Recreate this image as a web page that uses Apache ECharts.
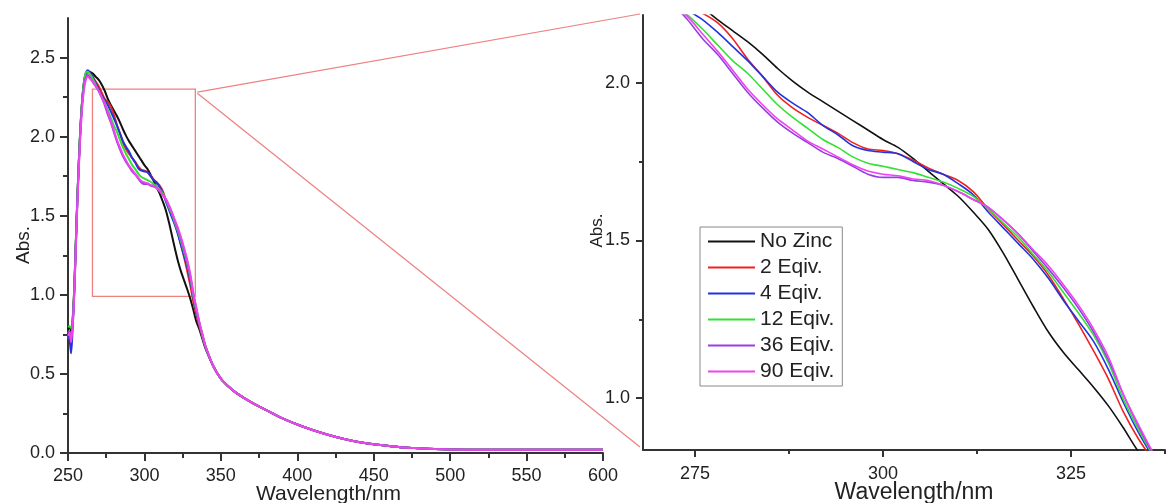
<!DOCTYPE html>
<html>
<head>
<meta charset="utf-8">
<script src="https://cdn.jsdelivr.net/npm/echarts@6/dist/echarts.min.js"></script>
<style>
html,body{margin:0;padding:0;background:#fff;}
#chart{width:1168px;height:503px;}
</style>
</head>
<body>
<div id="chart"></div>
<script>
// ---------- DATA ----------
const seriesNames = ['No Zinc', '2 Eqiv.', '4 Eqiv.', '12 Eqiv.', '36 Eqiv.', '90 Eqiv.'];
const seriesColors = ['#111111', '#ee2222', '#2233dd', '#33e033', '#9a3ce6', '#ee44ee'];

// wavelengths where the six spectra differ (nm)
const wlHead = [250,251,252,253,254,255,256,257,258,259,260,261,262,263,264,
  266,268,270,272,274,276,278,280,282,284,286,288,290,292,294,296,298,300,
  302,304,306,308,310,312,314,316,318,320,322,324,326,328,330,332,334,336,338,340];

const absNoZinc = [0.78,0.80,0.77,0.84,1.02,1.30,1.58,1.82,2.03,2.19,2.30,2.37,2.40,2.41,2.41,
  2.40,2.38,2.36,2.33,2.29,2.24,2.20,2.165,2.13,2.09,2.045,2.005,1.97,1.94,1.91,1.88,1.85,1.82,
  1.795,1.76,1.72,1.68,1.64,1.59,1.535,1.46,1.375,1.29,1.21,1.145,1.09,1.035,0.975,0.905,0.83,0.78,0.72,0.66];
const abs2Eq = [0.72,0.76,0.74,0.82,1.00,1.28,1.57,1.82,2.03,2.19,2.30,2.37,2.40,2.41,2.40,
  2.38,2.35,2.32,2.28,2.24,2.22,2.19,2.14,2.075,2.02,1.96,1.92,1.89,1.865,1.84,1.81,1.79,1.785,
  1.775,1.755,1.73,1.71,1.69,1.655,1.60,1.55,1.50,1.45,1.39,1.315,1.235,1.15,1.06,0.955,0.87,0.80,0.73,0.67];
const abs4Eq = [0.76,0.72,0.63,0.78,1.00,1.28,1.57,1.82,2.03,2.19,2.31,2.38,2.41,2.42,2.41,
  2.38,2.34,2.30,2.26,2.23,2.20,2.16,2.115,2.07,2.02,1.97,1.935,1.905,1.865,1.835,1.80,1.785,1.78,
  1.775,1.75,1.725,1.71,1.68,1.645,1.59,1.54,1.49,1.44,1.38,1.31,1.245,1.18,1.09,0.985,0.89,0.81,0.74,0.67];
const abs12Eq = [0.80,0.80,0.79,0.84,1.02,1.30,1.58,1.83,2.04,2.20,2.31,2.38,2.41,2.41,2.40,
  2.37,2.33,2.29,2.25,2.215,2.17,2.12,2.07,2.03,1.98,1.93,1.89,1.855,1.82,1.795,1.765,1.745,1.735,
  1.725,1.715,1.70,1.685,1.665,1.64,1.60,1.555,1.51,1.455,1.40,1.335,1.27,1.20,1.11,0.995,0.90,0.815,0.74,0.67];
const abs36Eq = [0.76,0.77,0.72,0.82,1.00,1.28,1.56,1.80,2.01,2.17,2.28,2.35,2.38,2.39,2.38,
  2.35,2.32,2.29,2.25,2.20,2.14,2.09,2.03,1.97,1.92,1.875,1.84,1.81,1.78,1.76,1.735,1.71,1.70,
  1.70,1.69,1.685,1.675,1.655,1.63,1.605,1.565,1.52,1.465,1.41,1.35,1.285,1.21,1.12,1.01,0.91,0.82,0.745,0.675];
const abs90Eq = [0.74,0.76,0.70,0.80,0.98,1.26,1.54,1.78,1.99,2.15,2.26,2.33,2.37,2.38,2.37,
  2.35,2.32,2.29,2.25,2.21,2.155,2.10,2.04,1.98,1.93,1.885,1.85,1.815,1.79,1.765,1.74,1.72,1.71,
  1.705,1.695,1.69,1.675,1.655,1.63,1.605,1.565,1.52,1.47,1.42,1.36,1.295,1.22,1.13,1.01,0.915,0.825,0.75,0.675];

// common tail (all spectra overlap)
const wlTail = [345,350,355,360,370,380,390,400,410,420,430,440,450,460,470,480,490,500,520,550,580,600];
const absTail = [0.55,0.47,0.42,0.38,0.32,0.27,0.22,0.18,0.145,0.115,0.09,0.07,0.055,0.045,0.035,0.03,0.025,0.022,0.02,0.02,0.02,0.02];

// zoom box drawn on the full spectrum (data units)
const zoomBoxX = [266, 333.3];
const zoomBoxY = [0.99, 2.3];

// axis ticks
const leftXRange = [250, 600];
const leftYRange = [0, 2.75];
const leftYMajor = [0, 0.5, 1.0, 1.5, 2.0, 2.5];
const leftYMinor = [0.25, 0.75, 1.25, 1.75, 2.25];
const rightXRange = [268.1, 337.5];
const rightXMajor = [275, 300, 325];
const rightXMinor = [287.5, 312.5, 337.5];
const rightYRange = [0.836, 2.2145];
const rightYMajor = [1.0, 1.5, 2.0];
const rightYMinor = [1.25, 1.75];

// ---------- CHART ----------
const allAbs = [absNoZinc, abs2Eq, abs4Eq, abs12Eq, abs36Eq, abs90Eq];
const wlAll = wlHead.concat(wlTail);
function pairs(a) {
  const v = a.concat(absTail);
  return wlAll.map((w, i) => [w, v[i]]);
}
const FONT = 'Liberation Sans, Arial, sans-serif';
const AX = '#333';
const LBL = {fontFamily: FONT, fontSize: 18, color: '#222'};

function xAxisBase(gi, range) {
  return {
    type: 'value', gridIndex: gi, min: range[0], max: range[1], position: 'bottom', offset: 0,
    splitLine: {show: false}, nameMoveOverlap: false,
    axisLine: {show: true, onZero: false, lineStyle: {color: AX, width: 2}},
    axisLabel: Object.assign({margin: 14}, LBL),
  };
}
function yAxisBase(gi, range) {
  return {
    type: 'value', gridIndex: gi, min: range[0], max: range[1], position: 'left', offset: 0,
    splitLine: {show: false}, nameMoveOverlap: false,
    axisLine: {show: true, onZero: false, lineStyle: {color: AX, width: 2}},
    axisLabel: Object.assign({margin: 13, formatter: v => Number(v).toFixed(1)}, LBL),
  };
}

const xAxes = [
  Object.assign(xAxisBase(0, leftXRange), {
    interval: 50,
    axisTick: {length: 8, lineStyle: {color: AX, width: 2}},
    minorTick: {show: true, splitNumber: 2, length: 5, lineStyle: {color: AX, width: 2}},
    name: 'Wavelength/nm', nameLocation: 'middle', nameGap: 31,
    nameTextStyle: {fontFamily: FONT, fontSize: 21, color: '#222', padding: [0, 14, 0, 0]}
  }),
  Object.assign(xAxisBase(1, rightXRange), {
    axisTick: {length: 7, customValues: rightXMajor, lineStyle: {color: AX, width: 2}},
    axisLabel: Object.assign({margin: 15, customValues: rightXMajor}, LBL),
    name: 'Wavelength/nm', nameLocation: 'middle', nameGap: 31,
    nameTextStyle: {fontFamily: FONT, fontSize: 23, color: '#222', padding: [0, 0, 0, 20]}
  }),
  Object.assign(xAxisBase(1, rightXRange), {
    axisLine: {show: false},
    axisLabel: {show: false},
    axisTick: {length: 4, customValues: rightXMinor, lineStyle: {color: AX, width: 2}}
  })
];
const yAxes = [
  Object.assign(yAxisBase(0, leftYRange), {
    axisTick: {length: 8, customValues: leftYMajor, lineStyle: {color: AX, width: 2}},
    axisLabel: Object.assign({margin: 13, customValues: leftYMajor, formatter: v => Number(v).toFixed(1)}, LBL),
    name: 'Abs.', nameLocation: 'middle', nameGap: 35,
    nameTextStyle: {fontFamily: FONT, fontSize: 19, color: '#222', padding: [0, 19, 0, 0]}
  }),
  Object.assign(yAxisBase(0, leftYRange), {
    axisLine: {show: false}, axisLabel: {show: false},
    axisTick: {length: 5, customValues: leftYMinor, lineStyle: {color: AX, width: 2}}
  }),
  Object.assign(yAxisBase(1, rightYRange), {
    axisTick: {length: 7, customValues: rightYMajor, lineStyle: {color: AX, width: 2}},
    axisLabel: Object.assign({margin: 13, customValues: rightYMajor, formatter: v => Number(v).toFixed(1)}, LBL),
    name: 'Abs.', nameLocation: 'middle', nameGap: 37,
    nameTextStyle: {fontFamily: FONT, fontSize: 17, color: '#222', padding: [0, 0, 0, 4]}
  }),
  Object.assign(yAxisBase(1, rightYRange), {
    axisLine: {show: false}, axisLabel: {show: false},
    axisTick: {length: 4, customValues: rightYMinor, lineStyle: {color: AX, width: 2}}
  })
];

const series = [];
allAbs.forEach((a, i) => {
  const s = {
    name: seriesNames[i], type: 'line', xAxisIndex: 0, yAxisIndex: 0,
    data: pairs(a), symbol: 'none', smooth: 0.3, color: seriesColors[i],
    lineStyle: {width: 2, color: seriesColors[i]}, z: 2 + i
  };
  if (i === 0) {
    s.markArea = {
      silent: true,
      itemStyle: {color: 'rgba(0,0,0,0)', borderColor: '#ee8080', borderWidth: 1.3},
      data: [[{coord: [zoomBoxX[0], zoomBoxY[1]]}, {coord: [zoomBoxX[1], zoomBoxY[0]]}]]
    };
  }
  series.push(s);
});
allAbs.forEach((a, i) => {
  series.push({
    name: seriesNames[i], type: 'line', xAxisIndex: 1, yAxisIndex: 2,
    data: pairs(a), symbol: 'none', smooth: 0.3, color: seriesColors[i], clip: true,
    lineStyle: {width: 1.6, color: seriesColors[i]}, z: 2 + i
  });
});

const chart = echarts.init(document.getElementById('chart'), null, {renderer: 'canvas'});
chart.setOption({
  animation: false,
  backgroundColor: '#ffffff',
  grid: [
    {left: 68, top: 18, width: 535, height: 435, outerBoundsMode: 'none', containLabel: false},
    {left: 643, top: 15, width: 522, height: 435, outerBoundsMode: 'none', containLabel: false}
  ],
  xAxis: xAxes,
  yAxis: yAxes,
  legend: {
    data: seriesNames, left: 700, top: 227, orient: 'vertical',
    icon: 'rect', itemWidth: 47, itemHeight: 2, itemGap: 5,
    padding: [4, 8, 4, 8],
    borderColor: '#888', borderWidth: 1, backgroundColor: '#fff',
    textStyle: {fontFamily: FONT, fontSize: 21, color: '#222'}
  },
  series: series
});

// connector lines from zoom box to the zoomed panel
const c0 = chart.convertToPixel({xAxisIndex: 0, yAxisIndex: 0}, [zoomBoxX[1], zoomBoxY[1]]);
const c1 = chart.convertToPixel({xAxisIndex: 1, yAxisIndex: 2}, [rightXRange[0], rightYRange[1]]);
const c2 = chart.convertToPixel({xAxisIndex: 1, yAxisIndex: 2}, [rightXRange[0], rightYRange[0]]);
chart.setOption({
  graphic: [
    {type: 'line', silent: true, shape: {x1: c0[0] + 2, y1: c0[1] + 3, x2: c1[0] - 3, y2: c1[1] - 1},
      style: {stroke: '#ee8080', lineWidth: 1.2}},
    {type: 'line', silent: true, shape: {x1: c0[0] + 2, y1: c0[1] + 4, x2: c2[0] - 3, y2: c2[1] - 3},
      style: {stroke: '#ee8080', lineWidth: 1.2}}
  ]
});
</script>
</body>
</html>
